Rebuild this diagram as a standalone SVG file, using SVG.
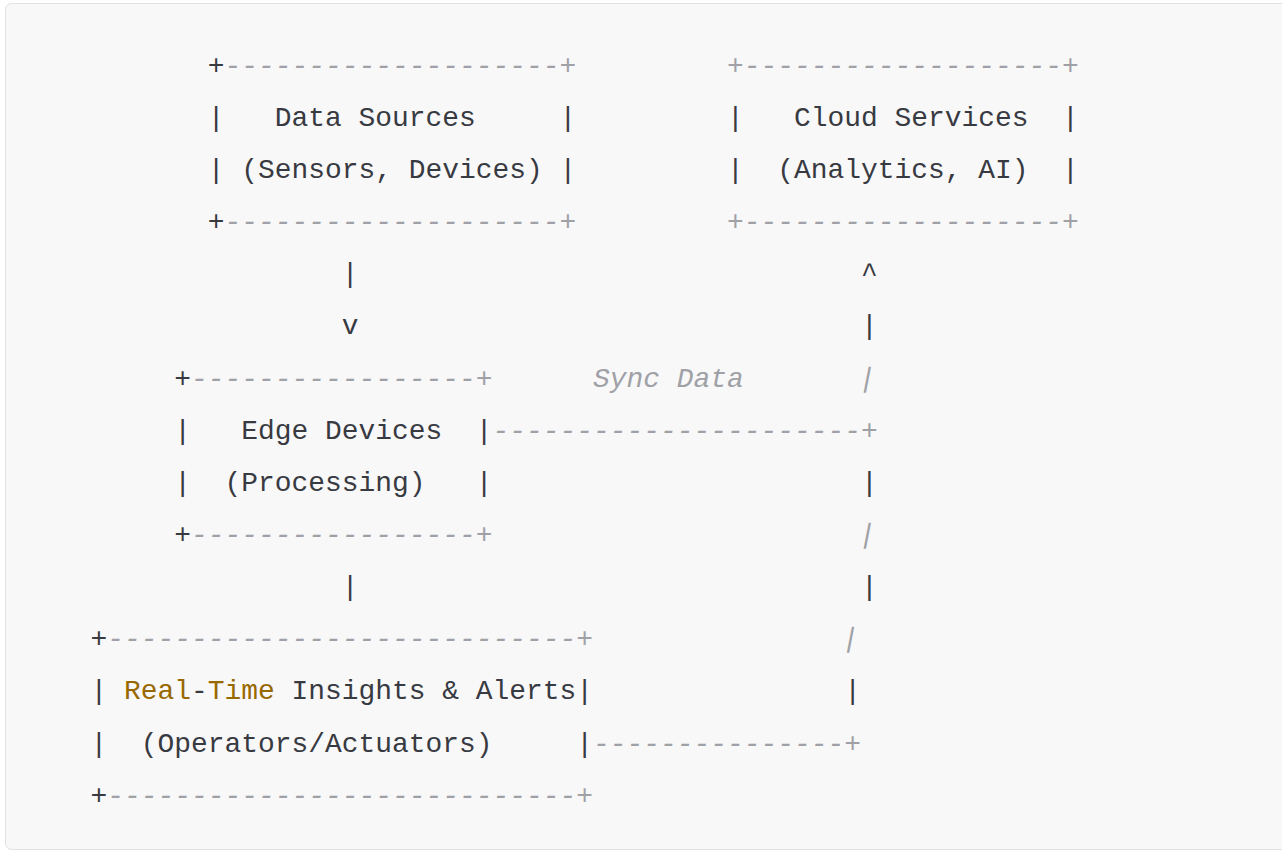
<svg xmlns="http://www.w3.org/2000/svg" width="1282" height="852" viewBox="0 0 1282 852" xml:space="preserve">
<style>
text { font-family: "Liberation Mono", "DejaVu Sans Mono", monospace; font-size: 27.92px; fill: #383a42; white-space: pre; }
.c { fill: #a0a1a7; font-style: italic; }
.cp { fill: #a0a1a7; }
.k { fill: #986801; }
</style>
<rect x="5.5" y="3.5" width="1300" height="846" rx="6" fill="#f8f8f8" stroke="#e2e2e2" stroke-width="1"/>
<g id="data-sources">
<text x="207.85" y="73.6">+</text><text class="c" x="224.6" y="73.6">--------------------+</text>
<text x="207.85" y="125.75">|   Data Sources     |</text>
<text x="207.85" y="177.9">| (Sensors, Devices) |</text>
<text x="207.85" y="230.05">+</text><text class="c" x="224.6" y="230.05">--------------------+</text>
</g>
<g id="cloud-services">
<text class="c" x="727.1" y="73.6">+-------------------+</text>
<text x="727.1" y="125.75">|   Cloud Services  |</text>
<text x="727.1" y="177.9">|  (Analytics, AI)  |</text>
<text class="c" x="727.1" y="230.05">+-------------------+</text>
</g>
<g id="edge-devices">
<text x="174.35" y="386.5">+</text><text class="c" x="191.1" y="386.5">-----------------+</text>
<text x="174.35" y="438.65">|   Edge Devices  |</text>
<text x="174.35" y="490.8">|  (Processing)   |</text>
<text x="174.35" y="542.95">+</text><text class="c" x="191.1" y="542.95">-----------------+</text>
</g>
<g id="insights-alerts">
<text x="90.6" y="647.25">+</text><text class="c" x="107.35" y="647.25">----------------------------+</text>
<text x="90.6" y="699.4">|</text><text class="k" x="124.1" y="699.4">Real</text><text x="191.1" y="699.4">-</text><text class="k" x="207.85" y="699.4">Time</text><text x="274.85" y="699.4"> Insights &amp; Alerts|</text>
<text x="90.6" y="751.55">|  (Operators/Actuators)     |</text>
<text x="90.6" y="803.7">+</text><text class="c" x="107.35" y="803.7">----------------------------+</text>
</g>
<g id="connectors">
<text x="341.85" y="282.2">|</text>
<text x="341.85" y="334.35">v</text>
<text x="341.85" y="595.1">|</text>
<text x="861.1" y="282.2">^</text>
<text x="861.1" y="334.35">|</text>
<text class="c" x="593.1" y="386.5">Sync Data</text>
<text class="cp" transform="translate(857.6,386.5) skewX(-11)" x="0" y="0">|</text>
<text class="c" x="492.6" y="438.65">----------------------+</text>
<text x="861.1" y="490.8">|</text>
<text class="cp" transform="translate(857.6,542.95) skewX(-11)" x="0" y="0">|</text>
<text x="861.1" y="595.1">|</text>
<text class="cp" transform="translate(840.85,647.25) skewX(-11)" x="0" y="0">|</text>
<text x="844.35" y="699.4">|</text>
<text class="c" x="593.1" y="751.55">---------------+</text>
</g>
</svg>
